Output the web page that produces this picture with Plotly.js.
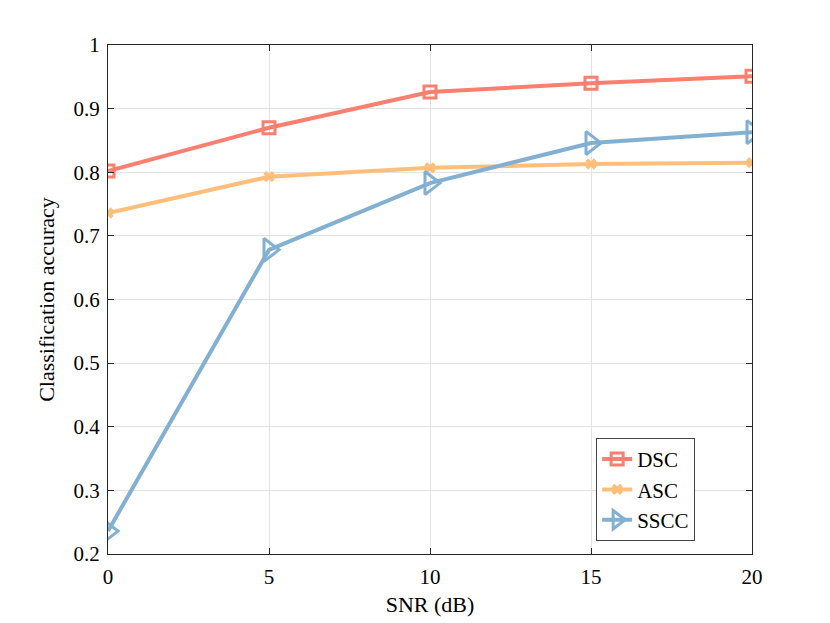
<!DOCTYPE html>
<html><head><meta charset="utf-8">
<script src="https://cdn.plot.ly/plotly-3.0.1.min.js"></script>
<style>body{margin:0;background:#fff}#c{width:830px;height:623px}</style>
</head><body><div id="c"></div>
<script>
const snr = [0, 5, 10, 15, 20];
const dsc = [0.802, 0.870, 0.926, 0.940, 0.951];
const asc = [0.736, 0.793, 0.807, 0.813, 0.815];
const sscc = [0.236, 0.678, 0.783, 0.846, 0.863];
const yTicks = [0.2, 0.3, 0.4, 0.5, 0.6, 0.7, 0.8, 0.9, 1];
const yTickText = ['0.2','0.3','0.4','0.5','0.6','0.7','0.8','0.9','1'];

const font = {family: '"Liberation Serif", "Times New Roman", serif', color: '#000'};
const traces = [
  {x: snr, y: dsc, name: 'DSC', mode: 'lines+markers',
   line: {color: '#FA7F6F', width: 4},
   marker: {symbol: 'square-open', size: 12, color: '#FA7F6F', line: {width: 3}}},
  {x: snr, y: asc, name: 'ASC', mode: 'lines+markers',
   line: {color: '#FFBE7A', width: 4},
   marker: {symbol: 'x', size: 10, color: '#FFBE7A', line: {width: 0}}},
  {x: snr, y: sscc, name: 'SSCC', mode: 'lines+markers',
   line: {color: '#82B0D2', width: 4},
   marker: {symbol: 'triangle-right-open', size: 20, color: '#82B0D2', line: {width: 3}}}
];
const layout = {
  width: 830, height: 623,
  margin: {l: 108, r: 78, t: 45, b: 69},
  paper_bgcolor: '#fff', plot_bgcolor: '#fff',
  font: Object.assign({size: 20}, font),
  showlegend: true,
  legend: {x: 0.758, y: 0.228, xanchor: 'left', yanchor: 'top',
    bgcolor: '#fff', bordercolor: '#444', borderwidth: 1,
    font: Object.assign({size: 21}, font), tracegroupgap: 0},
  xaxis: {range: [0, 20], tickvals: snr, ticktext: snr.map(String),
    showgrid: true, gridcolor: '#e3e3e3', gridwidth: 1,
    showline: true, linecolor: '#262626', linewidth: 1, mirror: 'ticks',
    ticks: 'inside', ticklen: 6, tickcolor: '#262626', zeroline: false,
    ticklabelstandoff: 4,
    tickfont: Object.assign({size: 21}, font),
    title: {text: 'SNR (dB)', font: Object.assign({size: 22}, font), standoff: 8}},
  yaxis: {range: [0.2, 1], tickvals: yTicks, ticktext: yTickText,
    showgrid: true, gridcolor: '#e3e3e3', gridwidth: 1,
    showline: true, linecolor: '#262626', linewidth: 1, mirror: 'ticks',
    ticks: 'inside', ticklen: 6, tickcolor: '#262626', zeroline: false,
    ticklabelstandoff: 3,
    tickfont: Object.assign({size: 21}, font),
    title: {text: 'Classification accuracy', font: Object.assign({size: 22}, font), standoff: 12}}
};
Plotly.newPlot('c', traces, layout, {displayModeBar: false, staticPlot: true});
</script></body></html>
